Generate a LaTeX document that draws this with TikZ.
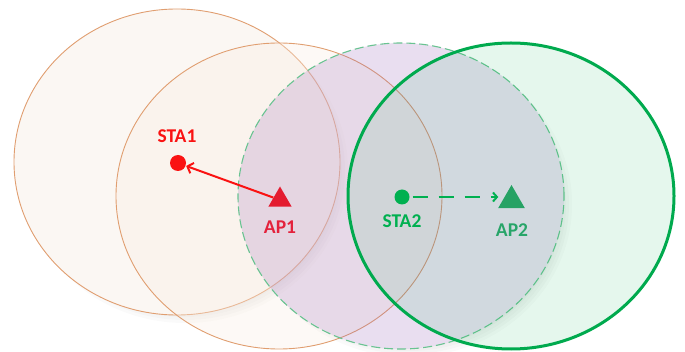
\documentclass[tikz,border=0pt]{standalone}
\usepackage{fontspec}
\setmainfont{Carlito}
\usetikzlibrary{arrows.meta,shapes.geometric}

\definecolor{rimorange}{RGB}{224,158,112}
\definecolor{fillone}{RGB}{249,242,236}
\definecolor{filltwo}{RGB}{250,238,228}
\definecolor{fillthree}{RGB}{155,105,185}
\definecolor{rimdash}{RGB}{105,195,145}
\definecolor{netgreen}{RGB}{0,176,80}
\definecolor{rimgreen}{RGB}{0,170,78}
\definecolor{stared}{RGB}{250,18,18}
\definecolor{apred}{RGB}{228,28,48}
\definecolor{aptextred}{RGB}{228,34,60}
\definecolor{apgreen}{RGB}{38,162,100}
\definecolor{aptextgreen}{RGB}{40,165,105}

\tikzset{
  coverage/.style={x radius=163pt, y radius=153pt},
  stadot/.style={circle, inner sep=0pt, minimum size=#1, draw=none},
  aptri/.style={regular polygon, regular polygon sides=3, inner sep=0pt,
                minimum size=#1, draw=none},
  tag/.style={font=\fontsize{19.5}{21}\selectfont\bfseries, inner sep=0pt},
}

% soft shadow below and right of a coverage ellipse, kept outside it
\newcommand\coverageshadow[1]{%
  \begin{scope}[even odd rule]
    \clip (-20,-20) rectangle (705,372) (#1) ellipse [coverage];
    \foreach \g in {0,3,6,9}
      \fill[black, opacity=0.02]
        ([shift={(8,8)}]#1) ellipse [x radius=163pt-\g pt, y radius=153pt-\g pt];
  \end{scope}}

\begin{document}
\begin{tikzpicture}[x=1pt, y=-1pt]
\useasboundingbox (0,0) rectangle (685,352);

\coordinate (c1) at (177,162);
\coordinate (c2) at (279,196);
\coordinate (c3) at (401,196);
\coordinate (c4) at (511,196);

% coverage areas
\coverageshadow{c1}
\fill[fillone, opacity=0.65] (c1) ellipse [coverage];
\draw[rimorange, line width=0.9pt] (c1) ellipse [coverage];

\fill[filltwo, opacity=0.35] (c2) ellipse [coverage];
\draw[rimorange, line width=0.9pt] (c2) ellipse [coverage];

\coverageshadow{c3}
\fill[fillthree, opacity=0.22] (c3) ellipse [coverage];
\draw[rimdash, line width=1.1pt, dash pattern=on 9pt off 4pt] (c3) ellipse [coverage];

\fill[netgreen, opacity=0.1] (c4) ellipse [coverage];
\draw[rimgreen, line width=3pt] (c4) ellipse [coverage];

% stations and access points
\node[stadot=16pt, fill=stared] (sta1) at (178,163) {};
\node[tag, text=stared] (sta1lbl) at (177,136) {STA1};
\node[aptri=27pt, fill=apred] (ap1) at (280,200) {};
\node[tag, text=aptextred] (ap1lbl) at (280,227) {AP1};

\node[stadot=15pt, fill=netgreen] (sta2) at (402,197) {};
\node[tag, text=netgreen] (sta2lbl) at (402,221) {STA2};
\node[aptri=31pt, fill=apgreen] (ap2) at (511.5,200.5) {};
\node[tag, text=aptextgreen] (ap2lbl) at (512,230) {AP2};

% links
\draw[stared, line width=2pt, -{Straight Barb[length=5pt, width=11pt]}, shorten >=0.5pt]
  (ap1) -- (sta1);
\draw[netgreen, line width=2pt, dash pattern=on 15pt off 11pt,
      -{Straight Barb[length=4pt, width=9pt]}, shorten <=3pt, shorten >=4pt]
  (sta2.east) -- (ap2.west |- sta2);
\end{tikzpicture}
\end{document}
